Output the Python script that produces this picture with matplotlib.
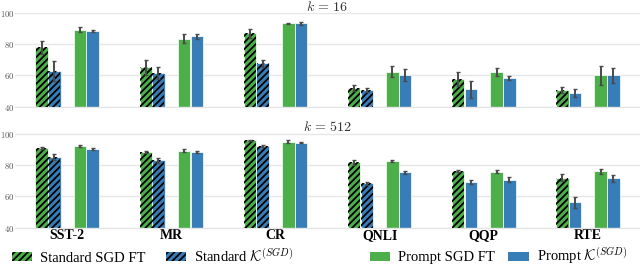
import numpy as np
import matplotlib.pyplot as plt
from matplotlib.patches import Patch

plt.rcParams['mathtext.fontset'] = 'cm'
plt.rcParams['hatch.linewidth'] = 1.3
plt.rcParams['hatch.color'] = 'black'

# ---------------- data ----------------
tasks = ['SST-2', 'MR', 'CR', 'QNLI', 'QQP', 'RTE']

std_ft_16 = [77.9, 65.1, 86.8, 51.7, 57.5, 50.7]
std_ft_16_err = [4.3, 5.0, 2.7, 2.0, 4.6, 2.1]
std_k_16 = [62.8, 61.5, 67.7, 50.7, 51.1, 48.7]
std_k_16_err = [6.2, 4.0, 2.4, 1.4, 5.3, 2.4]
prm_ft_16 = [89.2, 83.4, 93.4, 62.3, 62.3, 60.0]
prm_ft_16_err = [1.6, 2.8, 0.3, 3.4, 2.6, 6.2]
prm_k_16 = [88.5, 84.9, 93.4, 60.0, 58.3, 60.0]
prm_k_16_err = [0.5, 1.7, 1.0, 3.8, 1.3, 5.0]

std_ft_512 = [90.9, 88.5, 95.8, 81.6, 76.0, 72.0]
std_ft_512_err = [0.5, 0.7, 0.4, 1.5, 0.5, 2.0]
std_k_512 = [84.9, 83.0, 92.2, 68.2, 69.0, 56.3]
std_k_512_err = [2.0, 1.5, 0.8, 0.8, 1.2, 3.5]
prm_ft_512 = [91.9, 89.0, 94.7, 82.4, 75.8, 76.0]
prm_ft_512_err = [0.7, 1.0, 1.0, 0.6, 1.2, 1.5]
prm_k_512 = [90.2, 88.3, 94.3, 75.2, 70.7, 71.4]
prm_k_512_err = [0.6, 0.8, 0.5, 1.0, 1.5, 2.2]

# standard kernel bars drawn hatched only for these tasks
std_k_hatched = [True, True, True, True, False, False]

GREEN = '#4daf4a'
BLUE = '#377eb8'
ERR = '#4a4a4a'
GRID = '#e6e6e6'

WIDTH = 0.12
OFFSETS = [-0.245, -0.123, 0.123, 0.245]


def draw_panel(ax, series, title, show_labels):
    x = np.arange(len(tasks))
    colors = [GREEN, BLUE, GREEN, BLUE]
    for i, (vals, errs) in enumerate(series):
        xs = x + OFFSETS[i]
        ax.bar(xs, vals, WIDTH, bottom=0, color=colors[i],
               edgecolor='white', linewidth=0.5, zorder=2)
        if i == 0:
            hatch_mask = [True] * len(tasks)
        elif i == 1:
            hatch_mask = std_k_hatched
        else:
            hatch_mask = [False] * len(tasks)
        for xx, v, h in zip(xs, vals, hatch_mask):
            if h:
                ax.bar(xx, v, WIDTH * 0.96, color='none', edgecolor='black',
                       linewidth=0, hatch='/////', zorder=3)
        ax.errorbar(xs, vals, yerr=errs, fmt='none', ecolor=ERR,
                    elinewidth=1.4, capsize=1.2, capthick=1.0, zorder=4)

    ax.set_xlim(-0.5, 5.5)
    ax.set_ylim(40, 100.2)
    ax.set_yticks([40, 60, 80, 100])
    ax.set_yticklabels([f'${v}$' for v in [40, 60, 80, 100]])
    ax.tick_params(axis='y', length=0, pad=0.5, labelsize=6.3, labelcolor='#555555')
    ax.grid(axis='y', color=GRID, lw=1.0, zorder=0)
    ax.set_axisbelow(True)
    for s in ['top', 'right', 'left']:
        ax.spines[s].set_visible(False)
    ax.spines['bottom'].set_color(GRID)
    ax.spines['bottom'].set_linewidth(1.0)
    ax.set_xticks(x)
    ax.tick_params(axis='x', length=0, pad=1.0)
    if show_labels:
        ax.set_xticklabels(tasks, fontsize=10, fontweight='bold',
                           family='Liberation Serif')
    else:
        ax.set_xticklabels([])
    ax.annotate(title, xy=(0.5, 1.0), xycoords='axes fraction',
                xytext=(0, 1.4), textcoords='offset points',
                ha='center', va='baseline', fontsize=10, color='#333333')


fig = plt.figure(figsize=(6.4, 2.66), dpi=100)
ax1 = fig.add_axes([0.0235, 0.599, 0.9765, 0.354])
ax2 = fig.add_axes([0.0235, 0.144, 0.9765, 0.355])

draw_panel(ax1, [(std_ft_16, std_ft_16_err), (std_k_16, std_k_16_err),
                 (prm_ft_16, prm_ft_16_err), (prm_k_16, prm_k_16_err)],
           r'$k\,=\,16$', False)
draw_panel(ax2, [(std_ft_512, std_ft_512_err), (std_k_512, std_k_512_err),
                 (prm_ft_512, prm_ft_512_err), (prm_k_512, prm_k_512_err)],
           r'$k\,=\,512$', True)

# legends
left_handles = [
    Patch(facecolor=GREEN, edgecolor='black', hatch='/////', lw=0, label='Standard SGD FT'),
    Patch(facecolor=BLUE, edgecolor='black', hatch='/////', lw=0,
          label=r'Standard $\mathcal{K}^{(SGD)}$'),
]
right_handles = [
    Patch(facecolor=GREEN, lw=0, label='Prompt SGD FT'),
    Patch(facecolor=BLUE, lw=0, label=r'Prompt $\mathcal{K}^{(SGD)}$'),
]
leg_kw = dict(frameon=False, ncol=2, handlelength=1.4, handleheight=0.55,
              handletextpad=0.55, borderpad=0, borderaxespad=0,
              prop={'family': 'Liberation Serif', 'size': 10.5})
leg1 = fig.legend(handles=left_handles, loc='center left',
                  bbox_to_anchor=(0.018, 0.038), columnspacing=1.4, **leg_kw)
leg2 = fig.legend(handles=right_handles, loc='center left',
                  bbox_to_anchor=(0.578, 0.038), columnspacing=0.9, **leg_kw)

fig.savefig('out.png', dpi=100)
